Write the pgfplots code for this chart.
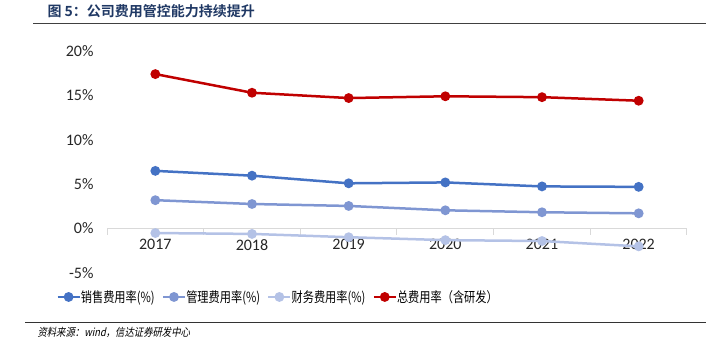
\documentclass[border=0pt]{standalone}
\usepackage{fontspec}
\usepackage{pgfplots}
\pgfplotsset{compat=1.18}
\setmainfont{Carlito}
\newfontfamily\cjk{Noto Sans CJK SC}
\newfontfamily\cjkleg[FakeStretch=0.8]{Noto Sans CJK SC}
\newfontfamily\cjkbold{Noto Sans CJK SC Bold}
\newfontfamily\cjkit[FakeSlant=0.2,FakeStretch=0.85]{Noto Sans CJK SC}
\definecolor{sales}{RGB}{68,114,196}
\definecolor{admin}{RGB}{127,150,210}
\definecolor{fin}{RGB}{180,194,230}
\definecolor{total}{RGB}{192,0,0}
\definecolor{ttl}{RGB}{31,56,100}
\begin{document}
\begin{tikzpicture}[x=1pt,y=1pt]
\path[use as bounding box] (0,0) rectangle (706,355);
\node[anchor=base west,text=ttl,font=\fontsize{14}{18}\selectfont] at (44,338) {\cjkbold 图 5：公司费用管控能力持续提升};
\draw[black!75,line width=1pt] (33,331) -- (706,331);
\begin{axis}[
  at={(107pt,82pt)}, anchor=south west,
  scale only axis, width=580pt, height=222pt,
  xmin=2016.5, xmax=2022.5, ymin=-5, ymax=20,
  axis x line=middle, axis y line=left,
  x axis line style={black!15,-,line width=1pt},
  y axis line style={draw=none},
  xtick={2017,...,2022},
  minor xtick={2016.5,2017.5,...,2022.5},
  major tick length=0pt, minor tick length=6pt,
  tick align=outside,
  minor x tick style={black!15,line width=1pt},
  major x tick style={draw=none},
  ytick={-5,0,5,10,15,20},
  ytick style={draw=none},
  yticklabel={\pgfmathprintnumber{\tick}\%},
  tick label style={font=\fontsize{16}{19}\selectfont, text=black!85},
  x tick label style={/pgf/number format/1000 sep=, yshift=-7pt},
  y tick label style={xshift=-10pt},
  /pgf/number format/assume math mode=true,
  clip=false,
  legend style={at={(0.295,-0.108)}, anchor=center, draw=none, fill=none,
    font=\fontsize{14}{16}\selectfont\cjkleg, legend columns=4,
    /tikz/every even column/.append style={column sep=5pt},
    /tikz/every odd column/.append style={column sep=-2pt},
    inner sep=0pt},
  legend cell align=left,
  legend image code/.code={\draw[#1,mark repeat=2,mark phase=2] plot coordinates {(0pt,0pt)(11pt,0pt)(22pt,0pt)};},
  every axis plot/.append style={line width=2.5pt, mark=*, mark size=3.6pt},
]
\addplot[sales, mark options={fill=sales,draw=sales}] coordinates {(2017,6.5)(2018,5.96)(2019,5.1)(2020,5.2)(2021,4.75)(2022,4.7)};
\addlegendentry{销售费用率(\%)}
\addplot[admin, mark options={fill=admin,draw=admin}] coordinates {(2017,3.2)(2018,2.77)(2019,2.55)(2020,2.06)(2021,1.84)(2022,1.72)};
\addlegendentry{管理费用率(\%)}
\addplot[fin, mark options={fill=fin,draw=fin}] coordinates {(2017,-0.5)(2018,-0.6)(2019,-0.97)(2020,-1.3)(2021,-1.4)(2022,-2.0)};
\addlegendentry{财务费用率(\%)}
\addplot[total, mark options={fill=total,draw=total}] coordinates {(2017,17.4)(2018,15.3)(2019,14.7)(2020,14.9)(2021,14.8)(2022,14.4)};
\addlegendentry{总费用率（含研发）}
\end{axis}
\draw[black!80,line width=1pt] (25,32) -- (706,32);
\node[anchor=base west,font=\fontsize{11}{12}\selectfont] at (34,18) {\cjkit 资料来源：wind，信达证券研发中心};
\end{tikzpicture}
\end{document}
